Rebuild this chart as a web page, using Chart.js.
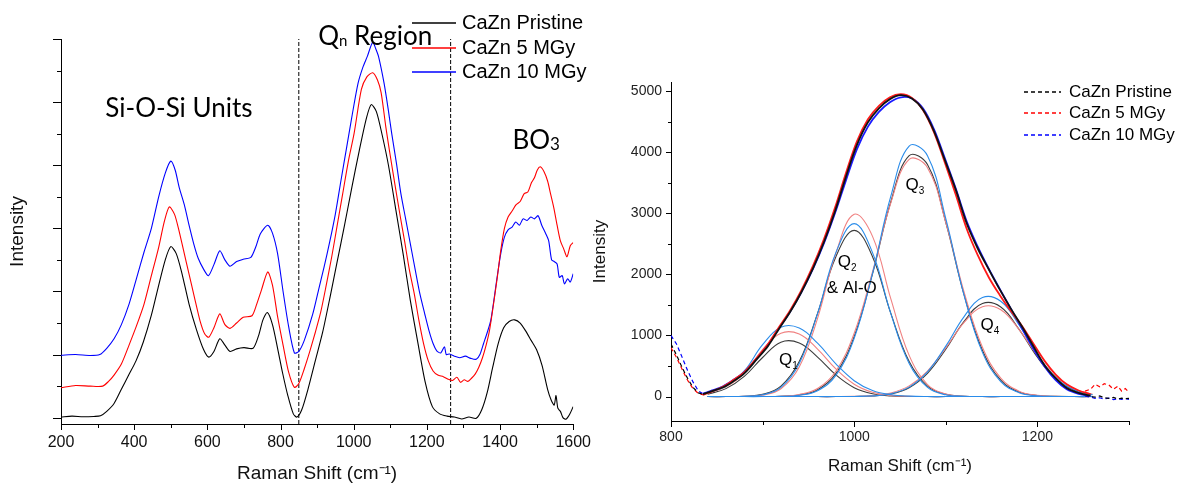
<!DOCTYPE html>
<html>
<head>
<meta charset="utf-8">
<script src="https://cdn.jsdelivr.net/npm/chart.js@4.4.1/dist/chart.umd.min.js"></script>
<style>
  html, body { margin: 0; padding: 0; background: #fff; }
  #wrap { position: relative; width: 1184px; height: 486px; overflow: hidden; }
  canvas { position: absolute; top: 0; }
  #spectra { left: 0; }
  #deconv { left: 588px; }
</style>
</head>
<body>
<div id="wrap">
  <canvas id="spectra" width="600" height="486"></canvas>
  <canvas id="deconv" width="596" height="486"></canvas>
</div>
<script>
const seriesLabels = ['CaZn Pristine', 'CaZn 5 MGy', 'CaZn 10 MGy'];

// Left panel: stacked full spectra (arbitrary intensity units)
const shiftPristine = [200, 230, 260, 290, 308, 325, 345, 365, 385, 405, 425, 447, 465, 485, 500, 515, 530, 550, 570, 590, 604, 618, 634, 648, 662, 680, 700, 725, 740, 752, 764, 778, 792, 806, 820, 835, 845, 858, 875, 895, 915, 935, 955, 975, 995, 1015, 1035, 1048, 1062, 1078, 1095, 1115, 1135, 1155, 1175, 1195, 1215, 1235, 1255, 1275, 1295, 1315, 1335, 1350, 1365, 1380, 1395, 1410, 1425, 1440, 1455, 1470, 1485, 1500, 1515, 1530, 1540, 1548, 1553, 1558, 1565, 1572, 1580, 1590, 1600];
const intPristine = [0.02, 0.05, 0.03, 0.04, 0.06, 0.2, 0.45, 0.9, 1.35, 1.8, 2.4, 3.25, 4.1, 5.0, 5.42, 5.2, 4.6, 3.6, 2.8, 2.15, 1.92, 2.1, 2.5, 2.3, 2.1, 2.18, 2.22, 2.2, 2.6, 3.1, 3.33, 2.95, 2.2, 1.4, 0.7, 0.12, 0.02, 0.25, 0.9, 1.8, 2.7, 3.8, 4.95, 6.1, 7.3, 8.45, 9.5, 9.92, 9.7, 8.95, 8.0, 6.6, 5.2, 3.7, 2.4, 1.15, 0.35, 0.12, 0.05, 0.02, -0.04, 0.02, -0.02, 0.25, 0.8, 1.6, 2.35, 2.85, 3.05, 3.1, 3.0, 2.75, 2.45, 2.15, 1.65, 0.9, 0.55, 0.4, 0.7, 0.3, 0.2, 0.0, -0.05, 0.1, 0.35];

const shift5MGy = [200, 240, 280, 314, 330, 345, 365, 386, 406, 427, 447, 467, 482, 496, 510, 521, 535, 550, 565, 580, 593, 604, 618, 634, 648, 662, 680, 698, 722, 735, 748, 765, 778, 792, 807, 822, 838, 850, 865, 880, 895, 910, 925, 940, 955, 970, 985, 1001, 1021, 1036, 1052, 1065, 1075, 1088, 1100, 1114, 1127, 1139, 1152, 1166, 1178, 1191, 1204, 1217, 1230, 1245, 1258, 1270, 1282, 1292, 1302, 1312, 1322, 1332, 1342, 1352, 1362, 1371, 1381, 1392, 1402, 1412, 1422, 1433, 1444, 1455, 1466, 1476, 1486, 1494, 1502, 1510, 1520, 1530, 1538, 1547, 1556, 1565, 1574, 1583, 1592, 1600];
const int5MGy = [0.95, 1.02, 1.0, 1.0, 1.15, 1.35, 1.7, 2.3, 2.9, 3.6, 4.5, 5.4, 6.2, 6.68, 6.45, 6.0, 5.3, 4.55, 3.8, 3.07, 2.65, 2.55, 2.85, 3.29, 2.95, 2.83, 3.0, 3.18, 3.23, 3.6, 4.05, 4.62, 4.2, 3.2, 2.3, 1.45, 0.96, 1.08, 1.55, 2.1, 2.7, 3.35, 4.2, 5.1, 6.1, 7.1, 8.1, 9.0, 10.4, 10.8, 10.93, 10.7, 10.3, 9.2, 8.3, 7.3, 6.4, 5.6, 4.7, 3.9, 3.1, 2.35, 1.8, 1.48, 1.35, 1.3, 1.22, 1.18, 1.28, 1.12, 1.2, 1.15, 1.25, 1.38, 1.6, 1.9, 2.3, 2.75, 3.5, 4.4, 5.3, 6.0, 6.36, 6.55, 6.75, 6.85, 7.1, 7.15, 7.45, 7.6, 7.85, 7.95, 7.8, 7.5, 7.1, 6.65, 6.1, 5.6, 5.35, 5.1, 5.45, 5.55];

const shift10MGy = [200, 240, 280, 306, 325, 345, 365, 386, 406, 427, 447, 467, 485, 500, 512, 523, 537, 550, 563, 575, 590, 603, 618, 634, 648, 662, 680, 698, 719, 732, 745, 765, 778, 792, 807, 822, 838, 850, 865, 888, 905, 919, 935, 950, 965, 981, 996, 1012, 1025, 1037, 1052, 1060, 1068, 1083, 1094, 1104, 1117, 1129, 1142, 1155, 1168, 1181, 1194, 1206, 1217, 1227, 1238, 1248, 1253, 1262, 1275, 1290, 1305, 1320, 1335, 1345, 1355, 1365, 1375, 1392, 1402, 1412, 1422, 1433, 1443, 1453, 1463, 1474, 1484, 1494, 1504, 1514, 1525, 1533, 1541, 1548, 1556, 1562, 1570, 1576, 1585, 1592, 1600];
const int10MGy = [1.98, 2.0, 1.97, 2.0, 2.2, 2.5, 2.95, 3.6, 4.4, 5.25, 6.0, 7.0, 7.75, 8.13, 7.85, 7.3, 6.75, 6.1, 5.5, 5.05, 4.7, 4.5, 4.85, 5.29, 5.0, 4.8, 4.95, 5.02, 5.08, 5.4, 5.83, 6.1, 5.85, 5.2, 4.0, 2.9, 2.05, 2.1, 2.45, 3.28, 4.1, 4.77, 5.6, 6.46, 7.5, 8.58, 9.6, 10.6, 11.1, 11.44, 11.9, 11.7, 11.44, 10.6, 9.8, 9.0, 8.05, 7.1, 6.3, 5.5, 4.7, 3.92, 3.3, 2.75, 2.35, 2.12, 2.05, 2.25, 2.0, 2.02, 1.95, 1.9, 1.95, 1.88, 1.85, 2.0, 2.35, 2.7, 3.1, 4.45, 5.2, 5.72, 5.95, 6.04, 6.2, 6.1, 6.3, 6.25, 6.36, 6.3, 6.4, 6.1, 5.83, 5.6, 5.0, 4.95, 4.87, 4.45, 4.5, 4.24, 4.4, 4.3, 4.56];

// Qn region boundaries (dashed verticals)
const regionBounds = [850, 1265];
const spectraShiftTicks = [200, 400, 600, 800, 1000, 1200, 1400, 1600];

// Right panel: measured spectra (dashed), only the tails stick out from under the fits
const rawShift = [800, 806, 812, 818, 824, 830, 836, 1000, 1252, 1258, 1263, 1268, 1273, 1278, 1283, 1288, 1292, 1296, 1300];
const rawPristine = [860, 680, 480, 300, 150, 60, 30, null, 20, 0, -10, 10, -20, -30, -15, -40, -25, -35, -30];
const raw5MGy = [800, 640, 450, 270, 130, 50, 25, null, 90, 120, 200, 160, 210, 190, 120, 170, 90, 130, 70];
const raw10MGy = [1000, 860, 650, 430, 240, 90, 35, null, 10, -10, -30, -20, -40, -25, -50, -35, -45, -30, -45];

// Right panel: cumulative fit envelopes
const fitShift = [835, 845, 857, 868, 880, 894, 906, 918, 930, 942, 955, 967, 979, 991, 1003, 1015, 1027, 1039, 1051, 1063, 1075, 1087, 1099, 1111, 1123, 1135, 1147, 1159, 1171, 1183, 1195, 1208, 1220, 1232, 1245, 1258];
const fitPristine = [40, 90, 153, 250, 380, 617, 830, 1110, 1383, 1700, 2100, 2530, 3030, 3600, 4120, 4490, 4720, 4870, 4935, 4880, 4700, 4350, 3870, 3380, 2830, 2420, 2080, 1750, 1440, 1150, 840, 510, 300, 140, 60, 15];
const fit5MGy = [30, 85, 165, 270, 400, 640, 860, 1140, 1410, 1730, 2140, 2580, 3090, 3660, 4180, 4540, 4760, 4900, 4950, 4890, 4690, 4330, 3830, 3300, 2740, 2310, 1950, 1660, 1400, 1160, 880, 580, 360, 200, 100, 40];
const fit10MGy = [50, 100, 170, 270, 400, 630, 850, 1120, 1390, 1700, 2090, 2510, 3000, 3540, 4050, 4420, 4660, 4820, 4900, 4880, 4720, 4380, 3900, 3400, 2860, 2450, 2090, 1760, 1440, 1120, 800, 490, 270, 120, 45, 10];

// Right panel: deconvoluted Qn bands
const bandShift = [840, 860, 880, 900, 920, 940, 960, 980, 1000, 1020, 1040, 1060, 1080, 1100, 1120, 1140, 1160, 1180, 1200, 1220, 1240, 1260];
const q1Pristine = [40, 130, 330, 640, 891, 878, 646, 355, 146, 45, 10, 2, 0, 0, 0, 0, 0, 0, 0, 0, 0, 0];
const q1Dose5 = [50, 160, 380, 770, 1038, 1024, 777, 453, 203, 70, 19, 4, 0, 0, 0, 0, 0, 0, 0, 0, 0, 0];
const q1Dose10 = [60, 170, 420, 850, 1136, 1123, 874, 537, 260, 99, 30, 7, 0, 0, 0, 0, 0, 0, 0, 0, 0, 0];
const q2Pristine = [0, 0, 5, 36, 171, 573, 1362, 2289, 2721, 2289, 1362, 573, 171, 36, 5, 0, 0, 0, 0, 0, 0, 0];
const q2Dose5 = [0, 0, 3, 23, 127, 484, 1281, 2349, 2983, 2623, 1598, 674, 197, 40, 6, 0, 0, 0, 0, 0, 0, 0];
const q2Dose10 = [0, 0, 4, 29, 150, 542, 1358, 2356, 2831, 2356, 1358, 542, 150, 29, 4, 0, 0, 0, 0, 0, 0, 0];
const q3Pristine = [0, 0, 0, 1, 5, 26, 112, 376, 985, 2008, 3189, 3944, 3799, 2850, 1665, 757, 268, 74, 16, 3, 0, 0];
const q3Dose5 = [0, 0, 0, 1, 6, 33, 131, 415, 1037, 2042, 3172, 3883, 3747, 2850, 1708, 807, 301, 88, 20, 4, 0, 0];
const q3Dose10 = [0, 0, 0, 0, 4, 21, 97, 346, 953, 2017, 3281, 4102, 3944, 2914, 1656, 723, 243, 63, 12, 2, 0, 0];
const q4Pristine = [0, 0, 0, 0, 0, 0, 0, 0, 2, 10, 43, 145, 380, 775, 1231, 1523, 1467, 1100, 643, 292, 104, 29];
const q4Dose5 = [0, 0, 0, 0, 0, 0, 0, 0, 3, 15, 58, 175, 418, 798, 1213, 1471, 1422, 1096, 673, 330, 128, 40];
const q4Dose10 = [0, 0, 0, 0, 0, 0, 0, 0, 2, 11, 46, 155, 405, 825, 1310, 1620, 1560, 1171, 684, 311, 110, 30];

const deconvShiftTicks = [800, 1000, 1200];
const deconvIntensityTicks = [0, 1000, 2000, 3000, 4000, 5000];

const traceColors = ['#000000', '#ff0000', '#0000ff'];
const fitColors = ['#111111', '#ff1a1a', '#1a1aff'];
const bandColors = ['#3c3c3c', '#f08282', '#2a8cea'];

const sans = "'Liberation Sans', Arial, sans-serif";
const humanist = "Lato, 'Open Sans', sans-serif";
Chart.defaults.font.family = sans;
Chart.defaults.color = '#000';

const toPoints = (xs, ys) => xs.map((x, i) => ({ x, y: ys[i] }));

const lineSet = (label, xs, ys, color, width, extra = {}) => ({
  label,
  data: toPoints(xs, ys),
  borderColor: color,
  backgroundColor: color,
  borderWidth: width,
  pointRadius: 0,
  fill: false,
  ...extra
});

// Replace the auto ticks with a fixed list of values.
const fixedTicks = (values) => (scale) => {
  scale.ticks = values.map((value) => ({ value }));
};

const plainLabel = (value) => String(value);

// Outward major/minor tick marks on the bottom and left axes.
const tickMarks = {
  id: 'tickMarks',
  afterDraw(chart, args, opts) {
    const { ctx, chartArea } = chart;
    ctx.save();
    ctx.strokeStyle = '#000';
    ctx.lineWidth = 1;
    ['x', 'y'].forEach((id) => {
      const scale = chart.scales[id];
      const spec = opts[id];
      if (!scale || !spec) {
        return;
      }
      const first = Math.ceil(scale.min / spec.minor - 1e-9);
      const last = Math.floor(scale.max / spec.minor + 1e-9);
      for (let k = first; k <= last; k++) {
        const value = k * spec.minor;
        const ratio = value / spec.major;
        const isMajor = Math.abs(ratio - Math.round(ratio)) < 1e-6;
        const len = isMajor ? spec.majorLen : spec.minorLen;
        const p = Math.round(scale.getPixelForValue(value)) + 0.5;
        ctx.beginPath();
        if (id === 'x') {
          ctx.moveTo(p, chartArea.bottom);
          ctx.lineTo(p, chartArea.bottom + len);
        } else {
          ctx.moveTo(chartArea.left, p);
          ctx.lineTo(chartArea.left - len, p);
        }
        ctx.stroke();
      }
    });
    ctx.restore();
  }
};

// Line-sample legend drawn at a fixed spot, reading labels and colours from the datasets.
const lineLegend = {
  id: 'lineLegend',
  afterDraw(chart, args, opts) {
    const { ctx } = chart;
    ctx.save();
    ctx.font = `${opts.size}px ${sans}`;
    ctx.textBaseline = 'middle';
    opts.items.forEach((index, row) => {
      const ds = chart.data.datasets[index];
      const y = opts.rows[row];
      ctx.strokeStyle = ds.borderColor;
      ctx.lineWidth = opts.lineWidth;
      ctx.setLineDash(opts.dash || []);
      ctx.beginPath();
      ctx.moveTo(opts.lineFrom, y);
      ctx.lineTo(opts.lineTo, y);
      ctx.stroke();
      ctx.setLineDash([]);
      ctx.fillStyle = '#000';
      ctx.fillText(ds.label, opts.textX, y);
    });
    ctx.restore();
  }
};

// Text annotations placed in data coordinates, with optional subscripts.
const noteText = {
  id: 'noteText',
  afterDraw(chart, args, opts) {
    const { ctx } = chart;
    const xs = chart.scales.x;
    const ys = chart.scales.y;
    ctx.save();
    ctx.fillStyle = '#000';
    ctx.textBaseline = 'middle';
    (opts.items || []).forEach((note) => {
      let cx = xs.getPixelForValue(note.x);
      const cy = ys.getPixelForValue(note.y);
      note.parts.forEach((part) => {
        ctx.font = `${part.size}px ${opts.family}`;
        ctx.fillText(part.text, cx, cy + (part.dy || 0));
        cx += ctx.measureText(part.text).width;
      });
    });
    ctx.restore();
  }
};

// ---------- Left panel ----------
const spectraMin = -0.2;
const spectraMax = 12;

const spectraDatasets = [
  lineSet(seriesLabels[0], shiftPristine, intPristine, traceColors[0], 1.1, { tension: 0.25 }),
  lineSet(seriesLabels[1], shift5MGy, int5MGy, traceColors[1], 1.1, { tension: 0.25 }),
  lineSet(seriesLabels[2], shift10MGy, int10MGy, traceColors[2], 1.1, { tension: 0.25 }),
  ...regionBounds.map((b) => lineSet('Qn bound', [b, b], [spectraMin, spectraMax], '#000', 1, { borderDash: [4, 2] }))
];

new Chart(document.getElementById('spectra'), {
  type: 'line',
  data: { datasets: spectraDatasets },
  options: {
    responsive: false,
    animation: false,
    devicePixelRatio: 1,
    events: [],
    layout: { padding: { left: 0, right: 17, top: 39, bottom: 0 } },
    plugins: {
      legend: { display: false },
      tooltip: { enabled: false },
      tickMarks: {
        x: { major: 200, minor: 100, majorLen: 6, minorLen: 4 },
        y: { major: 2, minor: 1, majorLen: 8, minorLen: 4 }
      },
      lineLegend: {
        items: [0, 1, 2], rows: [23, 48, 72], lineFrom: 412, lineTo: 456, textX: 462, size: 20, lineWidth: 1.5
      },
      noteText: {
        family: humanist,
        items: [
          { x: 321, y: 9.8, parts: [{ text: 'Si-O-Si Units', size: 26 }] },
          { x: 903, y: 12.09, parts: [{ text: 'Q', size: 26 }, { text: 'n', size: 15, dy: 5 }, { text: ' Region', size: 26 }] },
          { x: 1434, y: 8.77, parts: [{ text: 'BO', size: 26 }, { text: '3', size: 17, dy: 4 }] }
        ]
      }
    },
    scales: {
      x: {
        type: 'linear',
        min: 200,
        max: 1600,
        border: { color: '#000', width: 1 },
        grid: { display: false, drawTicks: false },
        afterBuildTicks: fixedTicks(spectraShiftTicks),
        ticks: { font: { size: 16 }, padding: 9, maxRotation: 0, autoSkip: false, color: '#111', callback: plainLabel },
        title: { display: true, text: 'Raman Shift (cm⁻¹)', font: { size: 19 }, color: '#111', padding: { top: 0, bottom: 1 } },
        afterFit: (scale) => { scale.height = 62; }
      },
      y: {
        type: 'linear',
        min: spectraMin,
        max: spectraMax,
        border: { color: '#000', width: 1 },
        grid: { display: false, drawTicks: false },
        ticks: { display: false },
        title: { display: true, text: 'Intensity', font: { size: 19 }, color: '#111', padding: { top: 6, bottom: 0 } },
        afterFit: (scale) => { scale.width = 61; }
      }
    }
  },
  plugins: [tickMarks, lineLegend, noteText]
});

// ---------- Right panel ----------
const fitSeries = [fitPristine, fit5MGy, fit10MGy];
const rawSeries = [rawPristine, raw5MGy, raw10MGy];
const bandSeries = [
  ['Q1', [q1Pristine, q1Dose5, q1Dose10]],
  ['Q2', [q2Pristine, q2Dose5, q2Dose10]],
  ['Q3', [q3Pristine, q3Dose5, q3Dose10]],
  ['Q4', [q4Pristine, q4Dose5, q4Dose10]]
];

// Earlier datasets are painted on top, so the 10 MGy bands (and their blue baseline) come first.
const deconvDatasets = [
  ...fitSeries.map((ys, i) => lineSet(`Fit ${seriesLabels[i]}`, fitShift, ys, fitColors[i], 1.8, { tension: 0.35 })),
  ...rawSeries.map((ys, i) => lineSet(seriesLabels[i], rawShift, ys, traceColors[i], 1.2, { borderDash: [4, 3], spanGaps: false, tension: 0 })),
  ...[2, 1, 0].flatMap((i) => bandSeries.map(([name, sets]) => lineSet(`${name} ${seriesLabels[i]}`, bandShift, sets[i], bandColors[i], 1.1, { tension: 0.4 })))
];

new Chart(document.getElementById('deconv'), {
  type: 'line',
  data: { datasets: deconvDatasets },
  options: {
    responsive: false,
    animation: false,
    devicePixelRatio: 1,
    events: [],
    layout: { padding: { left: 0, right: 55, top: 82, bottom: 0 } },
    plugins: {
      legend: { display: false },
      tooltip: { enabled: false },
      tickMarks: {
        x: { major: 200, minor: 100, majorLen: 6, minorLen: 4 },
        y: { major: 1000, minor: 500, majorLen: 5, minorLen: 3 }
      },
      lineLegend: {
        items: [3, 4, 5], rows: [92, 113, 135], lineFrom: 436, lineTo: 473, textX: 481, size: 17, lineWidth: 1.3, dash: [4, 3]
      },
      noteText: {
        family: sans,
        items: [
          { x: 918, y: 599, parts: [{ text: 'Q', size: 17 }, { text: '1', size: 10, dy: 6 }] },
          { x: 982, y: 2204, parts: [{ text: 'Q', size: 17 }, { text: '2', size: 10, dy: 6 }] },
          { x: 970, y: 1778, parts: [{ text: '& Al-O', size: 17 }] },
          { x: 1056, y: 3464, parts: [{ text: 'Q', size: 17 }, { text: '3', size: 10, dy: 6 }] },
          { x: 1138, y: 1172, parts: [{ text: 'Q', size: 17 }, { text: '4', size: 10, dy: 6 }] }
        ]
      }
    },
    scales: {
      x: {
        type: 'linear',
        min: 800,
        max: 1300,
        border: { color: '#000', width: 1 },
        grid: { display: false, drawTicks: false },
        afterBuildTicks: fixedTicks(deconvShiftTicks),
        ticks: { font: { size: 14 }, padding: 8, maxRotation: 0, autoSkip: false, color: '#222', callback: plainLabel },
        title: { display: true, text: 'Raman Shift (cm⁻¹)', font: { size: 17 }, color: '#111', padding: { top: 0, bottom: 9 } },
        afterFit: (scale) => { scale.height = 65; }
      },
      y: {
        type: 'linear',
        min: -400,
        max: 5150,
        border: { color: '#000', width: 1 },
        grid: { display: false, drawTicks: false },
        afterBuildTicks: fixedTicks(deconvIntensityTicks),
        ticks: { font: { size: 14 }, padding: 9, autoSkip: false, color: '#222', callback: plainLabel },
        title: { display: true, text: 'Intensity', font: { size: 17 }, color: '#111', padding: { top: 2, bottom: 0 } },
        afterFit: (scale) => { scale.width = 83; }
      }
    }
  },
  plugins: [tickMarks, lineLegend, noteText]
});
</script>
</body>
</html>
